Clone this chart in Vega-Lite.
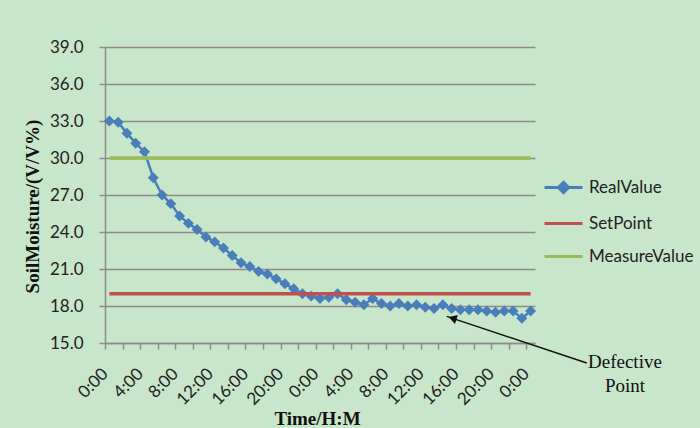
{
  "$schema": "https://vega.github.io/schema/vega-lite/v6.json",
  "width": 430,
  "height": 296,
  "autosize": "none",
  "padding": {"left": 105, "top": 47, "right": 165, "bottom": 85},
  "background": "#c8e6c9",
  "config": {"view": {"stroke": null}, "font": "Lato"},
  "datasets": {
    "series": [
      {"series": "RealValue", "t": 0.5, "v": 33.0},
      {"series": "RealValue", "t": 1.5, "v": 32.9},
      {"series": "RealValue", "t": 2.5, "v": 32.0},
      {"series": "RealValue", "t": 3.5, "v": 31.2},
      {"series": "RealValue", "t": 4.5, "v": 30.5},
      {"series": "RealValue", "t": 5.5, "v": 28.4},
      {"series": "RealValue", "t": 6.5, "v": 27.0},
      {"series": "RealValue", "t": 7.5, "v": 26.3},
      {"series": "RealValue", "t": 8.5, "v": 25.3},
      {"series": "RealValue", "t": 9.5, "v": 24.7},
      {"series": "RealValue", "t": 10.5, "v": 24.2},
      {"series": "RealValue", "t": 11.5, "v": 23.6},
      {"series": "RealValue", "t": 12.5, "v": 23.2},
      {"series": "RealValue", "t": 13.5, "v": 22.7},
      {"series": "RealValue", "t": 14.5, "v": 22.1},
      {"series": "RealValue", "t": 15.5, "v": 21.5},
      {"series": "RealValue", "t": 16.5, "v": 21.2},
      {"series": "RealValue", "t": 17.5, "v": 20.8},
      {"series": "RealValue", "t": 18.5, "v": 20.6},
      {"series": "RealValue", "t": 19.5, "v": 20.2},
      {"series": "RealValue", "t": 20.5, "v": 19.8},
      {"series": "RealValue", "t": 21.5, "v": 19.4},
      {"series": "RealValue", "t": 22.5, "v": 19.0},
      {"series": "RealValue", "t": 23.5, "v": 18.8},
      {"series": "RealValue", "t": 24.5, "v": 18.6},
      {"series": "RealValue", "t": 25.5, "v": 18.7},
      {"series": "RealValue", "t": 26.5, "v": 19.0},
      {"series": "RealValue", "t": 27.5, "v": 18.5},
      {"series": "RealValue", "t": 28.5, "v": 18.3},
      {"series": "RealValue", "t": 29.5, "v": 18.1},
      {"series": "RealValue", "t": 30.5, "v": 18.6},
      {"series": "RealValue", "t": 31.5, "v": 18.2},
      {"series": "RealValue", "t": 32.5, "v": 18.0},
      {"series": "RealValue", "t": 33.5, "v": 18.2},
      {"series": "RealValue", "t": 34.5, "v": 18.0},
      {"series": "RealValue", "t": 35.5, "v": 18.1},
      {"series": "RealValue", "t": 36.5, "v": 17.9},
      {"series": "RealValue", "t": 37.5, "v": 17.8},
      {"series": "RealValue", "t": 38.5, "v": 18.1},
      {"series": "RealValue", "t": 39.5, "v": 17.8},
      {"series": "RealValue", "t": 40.5, "v": 17.7},
      {"series": "RealValue", "t": 41.5, "v": 17.7},
      {"series": "RealValue", "t": 42.5, "v": 17.7},
      {"series": "RealValue", "t": 43.5, "v": 17.6},
      {"series": "RealValue", "t": 44.5, "v": 17.5},
      {"series": "RealValue", "t": 45.5, "v": 17.6},
      {"series": "RealValue", "t": 46.5, "v": 17.6},
      {"series": "RealValue", "t": 47.5, "v": 17.0},
      {"series": "RealValue", "t": 48.5, "v": 17.6},
      {"series": "SetPoint", "t": 0.5, "v": 19.0},
      {"series": "SetPoint", "t": 48.5, "v": 19.0},
      {"series": "MeasureValue", "t": 0.5, "v": 30.0},
      {"series": "MeasureValue", "t": 48.5, "v": 30.0}
    ],
    "note": [
      {"label": "Defective", "t": 59.25, "v": 13.48},
      {"label": "Point", "t": 59.25, "v": 11.54}
    ],
    "arrow": [
      {"t": 54.9, "v": 13.38, "t2": 38.94, "v2": 17.16}
    ],
    "arrowhead": [
      {"t": 39.6, "v": 17.0}
    ]
  },
  "encoding": {
    "x": {
      "field": "t",
      "type": "quantitative",
      "scale": {"domain": [0, 49], "nice": false, "zero": false},
      "axis": {
        "values": [0, 2, 4, 6, 8, 10, 12, 14, 16, 18, 20, 22, 24, 26, 28, 30, 32, 34, 36, 38, 40, 42, 44, 46, 48],
        "labelExpr": "datum.value % 4 === 0 ? (datum.value % 24) + ':00' : ''",
        "labelAngle": -45,
        "labelAlign": "right",
        "labelBaseline": "middle",
        "labelFont": "Lato",
        "labelFontSize": 17,
        "labelColor": "#222222",
        "labelPadding": 22,
        "labelDx": 8,
        "labelOverlap": false,
        "labelFlush": false,
        "labelBound": false,
        "tickSize": 6,
        "tickWidth": 1.5,
        "tickColor": "#8c8c8c",
        "domainColor": "#8c8c8c",
        "domainWidth": 1.5,
        "grid": false,
        "title": "Time/H:M",
        "titleFont": "Liberation Serif",
        "titleFontWeight": "bold",
        "titleFontSize": 19,
        "titleColor": "#111111",
        "titleX": 212,
        "titleY": 75,
        "titleBaseline": "middle",
        "titleAlign": "center"
      }
    },
    "y": {
      "field": "v",
      "type": "quantitative",
      "scale": {"domain": [15, 39], "nice": false, "zero": false},
      "axis": {
        "values": [15, 18, 21, 24, 27, 30, 33, 36, 39],
        "format": ".1f",
        "labelFont": "Lato",
        "labelFontSize": 17,
        "labelColor": "#222222",
        "labelPadding": 16,
        "tickSize": 6,
        "tickWidth": 1.5,
        "tickColor": "#8c8c8c",
        "domainColor": "#8c8c8c",
        "domainWidth": 1.5,
        "grid": true,
        "gridColor": "#8c8c8c",
        "gridWidth": 1.5,
        "title": "SoilMoisture/(V/V%)",
        "titleFont": "Liberation Serif",
        "titleFontWeight": "bold",
        "titleFontSize": 19,
        "titleColor": "#111111",
        "titleAngle": -90,
        "titleX": -73,
        "titleY": 159,
        "titleBaseline": "middle",
        "titleAlign": "center"
      }
    }
  },
  "layer": [
    {
      "data": {"name": "series"},
      "transform": [{"filter": "datum.series === 'RealValue'"}],
      "mark": {"type": "line", "strokeWidth": 2.5},
      "encoding": {
        "color": {
          "field": "series",
          "type": "nominal",
          "scale": {"domain": ["RealValue", "SetPoint", "MeasureValue"], "range": ["#4a7ebb", "#c0504d", "#9bbb59"]},
          "legend": {
            "orient": "none",
            "legendX": 438,
            "legendY": 120,
            "title": null,
            "labelFont": "Lato",
            "labelFontSize": 17,
            "labelColor": "#222222",
            "labelOffset": 5,
            "symbolSize": 1444,
            "symbolStrokeWidth": 3,
            "symbolType": "M-1,0H1",
            "rowPadding": 4,
            "encode": {
              "symbols": {
                "update": {
                  "shape": {"signal": "datum.value === 'RealValue' ? 'M-1,0H1M0,-0.27L0.27,0L0,0.27L-0.27,0Z' : 'M-1,0H1'"},
                  "fill": {"signal": "scale('color', datum.value)"},
                  "stroke": {"signal": "scale('color', datum.value)"},
                  "strokeWidth": {"value": 3},
                  "opacity": {"value": 1},
                  "fillOpacity": {"value": 1}
                }
              }
            }
          }
        }
      }
    },
    {
      "data": {"name": "series"},
      "transform": [{"filter": "datum.series === 'RealValue'"}],
      "mark": {"type": "point", "shape": "diamond", "filled": true, "size": 120, "opacity": 1},
      "encoding": {"color": {"field": "series", "type": "nominal"}}
    },
    {
      "data": {"name": "series"},
      "transform": [{"filter": "datum.series !== 'RealValue'"}],
      "mark": {"type": "line", "strokeWidth": 3.5},
      "encoding": {"color": {"field": "series", "type": "nominal"}, "detail": {"field": "series"}}
    },
    {
      "data": {"name": "arrow"},
      "mark": {"type": "rule", "color": "#111111", "strokeWidth": 1.5},
      "encoding": {
        "x2": {"field": "t2"},
        "y2": {"field": "v2"}
      }
    },
    {
      "data": {"name": "arrowhead"},
      "mark": {"type": "point", "shape": "triangle-up", "filled": true, "color": "#111111", "size": 90, "angle": 288, "opacity": 1}
    },
    {
      "data": {"name": "note"},
      "mark": {"type": "text", "font": "Liberation Serif", "fontSize": 19, "color": "#111111", "align": "center", "baseline": "middle"},
      "encoding": {"text": {"field": "label"}}
    }
  ]
}
